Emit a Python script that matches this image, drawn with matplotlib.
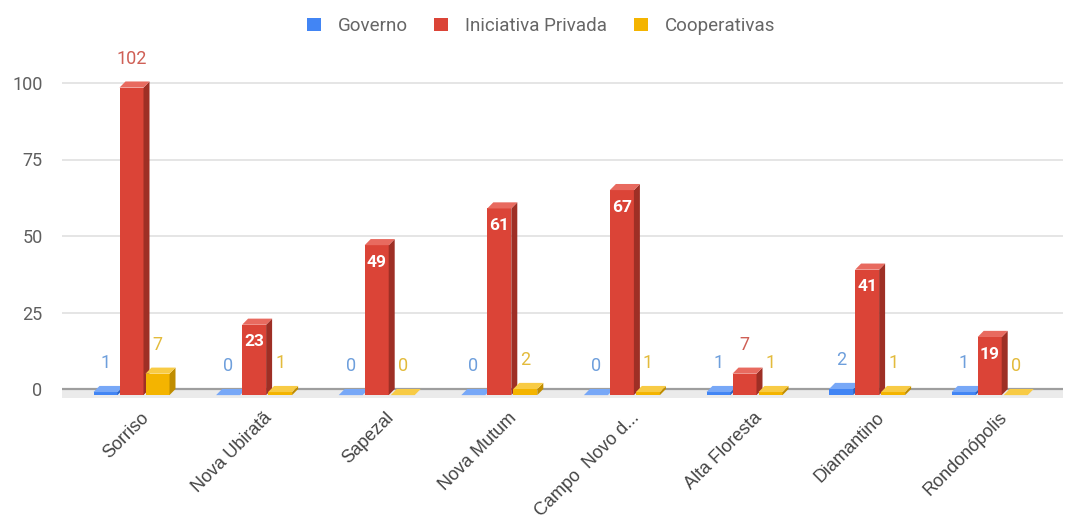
import matplotlib
matplotlib.use("Agg")
import matplotlib.pyplot as plt
from matplotlib.patches import Polygon, Rectangle
from matplotlib.transforms import ScaledTranslation

categories = ["Sorriso", "Nova Ubiratã", "Sapezal", "Nova Mutum", "Campo  Novo d...",
              "Alta Floresta", "Diamantino", "Rondonópolis"]
series_names = ["Governo", "Iniciativa Privada", "Cooperativas"]
governo = [1, 0, 0, 0, 0, 1, 2, 1]
privada = [102, 23, 49, 61, 67, 7, 41, 19]
cooperativas = [7, 1, 0, 2, 1, 1, 1, 0]
yticks = [0, 25, 50, 75, 100]

plt.rcParams['font.family'] = ['Roboto', 'DejaVu Sans']

front_cols = ["#4285F4", "#DB4437", "#F4B400"]
side_cols = ["#2a62c4", "#9e2f25", "#c08d00"]
top_cols = ["#78a8f7", "#e86a5f", "#f8cb45"]
label_cols = ["#6e9fdc", "#cf5f55", "#e3bb3c"]

W, H = 1065, 525
fig = plt.figure(figsize=(W / 100, H / 100), dpi=100)
left_px, right_px = 62, 1063
zero_px, ppu = 389, 3.06
ymin, ymax = -3, 110
bottom_px = zero_px - ymin * ppu
top_px = zero_px - ymax * ppu
ax = fig.add_axes([left_px / W, (H - bottom_px) / H, (right_px - left_px) / W, (bottom_px - top_px) / H])

spacing = 122.6
first_px = 131.5
ax.set_xlim(-(first_px - left_px) / spacing, (right_px - first_px) / spacing)
ax.set_ylim(ymin, ymax)

for s in ax.spines.values():
    s.set_visible(False)

# gridlines on back wall
for t in yticks[1:]:
    ax.axhline(t, color="#e0e0e0", lw=1.2, zorder=0)
# floor
ax.add_patch(Rectangle((ax.get_xlim()[0], ymin), ax.get_xlim()[1] - ax.get_xlim()[0], -ymin,
                       color="#ebebeb", lw=0, zorder=0.5))
ax.axhline(0, color="#9e9e9e", lw=1.6, zorder=1)

offsets = [-26 / spacing, 0, 26 / spacing]
width = 24 / spacing
dx = 6 / spacing
dy = 2.0
data = [governo, privada, cooperativas]

for si, vals in enumerate(data):
    for i, v in enumerate(vals):
        x0 = i + offsets[si] - width / 2
        x1 = x0 + width
        vis = min(v, 100.5)
        ftop = vis - dy
        fb = -dy
        if ftop > fb:
            ax.add_patch(Rectangle((x0, fb), width, ftop - fb, facecolor=front_cols[si],
                                   edgecolor="none", zorder=3))
            ax.add_patch(Polygon([(x1, fb), (x1 + dx, 0), (x1 + dx, vis), (x1, ftop)],
                                 closed=True, facecolor=side_cols[si], edgecolor="none", zorder=3))
        ax.add_patch(Polygon([(x0, ftop), (x1, ftop), (x1 + dx, vis), (x0 + dx, vis)],
                             closed=True, facecolor=top_cols[si], edgecolor="none", zorder=3))
        xc = x0 + width / 2
        if si == 1 and 15 <= v <= 100:
            ax.text(xc, ftop - 5.6, str(v), ha="center", va="center", color="white",
                    fontsize=12.5, fontweight="bold", zorder=4)
        else:
            ax.text(xc, ftop + 9.5, str(v), ha="center", va="center", color=label_cols[si],
                    fontsize=13, zorder=4)

ax.set_yticks(yticks)
ax.set_yticklabels([str(t) for t in yticks], color="#5f5f5f", fontsize=13)
ax.tick_params(axis="y", length=0, pad=14)
ax.set_xticks(range(len(categories)))
ax.set_xticklabels(categories, rotation=45, ha="right", va="top", rotation_mode="anchor",
                   fontsize=13, color="#444444", family=["Liberation Sans", "DejaVu Sans"])
ax.tick_params(axis="x", length=0, pad=8)
shift = ScaledTranslation(9 / 100, 0, fig.dpi_scale_trans)
for lab in ax.get_xticklabels():
    lab.set_transform(lab.get_transform() + shift)

# legend
handles = [Rectangle((0, 0), 1, 1, facecolor=c, edgecolor="none") for c in front_cols]
leg = fig.legend(handles, series_names, loc="center", bbox_to_anchor=(541 / W, 1 - 26 / H),
                 ncol=3, frameon=False, fontsize=13.5, handlelength=0.75, handleheight=0.75,
                 columnspacing=1.4, handletextpad=0.9)
for t in leg.get_texts():
    t.set_color("#666666")

fig.savefig("out.png", dpi=100)
